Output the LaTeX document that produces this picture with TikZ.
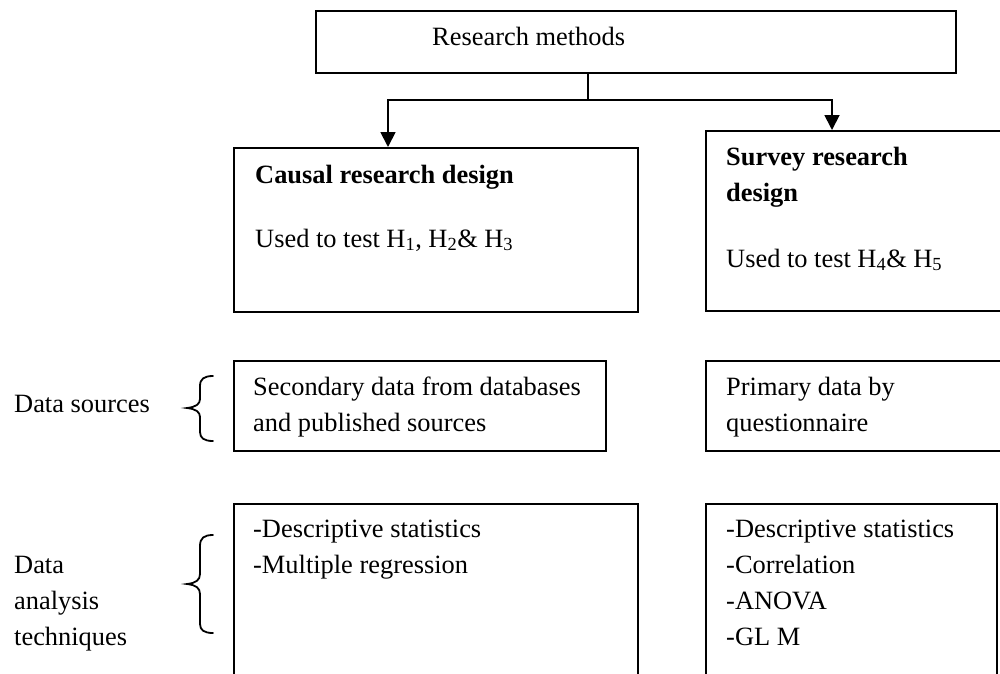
\documentclass[tikz,border=0pt]{standalone}
\usepackage{fontspec}
\setmainfont{Liberation Serif}
\usetikzlibrary{arrows.meta}
% lines of text stacked under the first baseline
\newcommand{\stackedlines}[1]{\begin{tabular}[t]{@{}l@{}}#1\end{tabular}}
\begin{document}
\begin{tikzpicture}[x=1pt,y=-1pt,
  box/.style={draw, line width=2pt, inner sep=0pt, anchor=north west},
  txt/.style={anchor=base west, inner sep=0pt, font=\fontsize{26.4}{36}\selectfont},
  arr/.style={line width=1.8pt, -{Triangle[length=15pt,width=15pt]}},
  brace/.style={line width=1.8pt, line cap=round}]
\useasboundingbox (0,0) rectangle (1000,673);
\clip (0,0) rectangle (1000,673);

% boxes
\node[box, minimum width=640, minimum height=62] (top) at (315,10) {};
\node[box, minimum width=404, minimum height=164] (causal) at (233,147) {};
\node[box, minimum width=320, minimum height=180] (survey) at (705,130) {};
\node[box, minimum width=372, minimum height=90] (secsrc) at (233,360) {};
\node[box, minimum width=320, minimum height=90] (prisrc) at (705,360) {};
\node[box, minimum width=404, minimum height=200] (anleft) at (233,503) {};
\node[box, minimum width=291, minimum height=200] (anright) at (705,503) {};

% texts
\node[txt] (ttop) at (432,45) {Research methods};
\node[txt] (tcausal) at (255,183) {\textbf{Causal research design}};
\node[txt] (tcausalh) at (255,247) {Used to test H\textsubscript{1}, H\textsubscript{2}\& H\textsubscript{3}};
\node[txt] (tsurvey) at (726,165) {\stackedlines{\textbf{Survey research}\\\textbf{design}}};
\node[txt] (tsurveyh) at (726,267) {Used to test H\textsubscript{4}\& H\textsubscript{5}};
\node[txt] (tsec) at (253,395) {\stackedlines{Secondary data from databases\\and published sources}};
\node[txt] (tpri) at (726,395) {\stackedlines{Primary data by\\questionnaire}};
\node[txt] (tanl) at (253,537) {\stackedlines{-Descriptive statistics\\-Multiple regression}};
\node[txt] (tanr) at (726,537) {\stackedlines{-Descriptive statistics\\-Correlation\\-ANOVA\\-GL M}};
\node[txt] (lsrc) at (14,412) {Data sources};
\node[txt] (lana) at (14,573) {\stackedlines{Data\\analysis\\techniques}};

% connectors
\coordinate (split) at (588,100);
\coordinate (lx) at (388,0);
\coordinate (rx) at (832,0);
\draw[line width=1.8pt] (top.south -| split) -- (split);
\draw[arr] (split) -| (causal.north -| lx);
\draw[arr] (split) -| (survey.north -| rx);

% braces
\draw[brace] (213,376) .. controls (204,376) and (200,379) .. (200,386) -- (200,399)
  .. controls (200,404) and (196,407) .. (187,408)
  .. controls (196,409) and (200,412) .. (200,417) -- (200,432)
  .. controls (200,438) and (204,441) .. (213,441);
\draw[brace] (213,535) .. controls (204,535) and (200,538) .. (200,546) -- (200,574)
  .. controls (200,580) and (196,583) .. (187,584)
  .. controls (196,585) and (200,588) .. (200,594) -- (200,624)
  .. controls (200,630) and (204,633) .. (213,633);
\end{tikzpicture}
\end{document}
